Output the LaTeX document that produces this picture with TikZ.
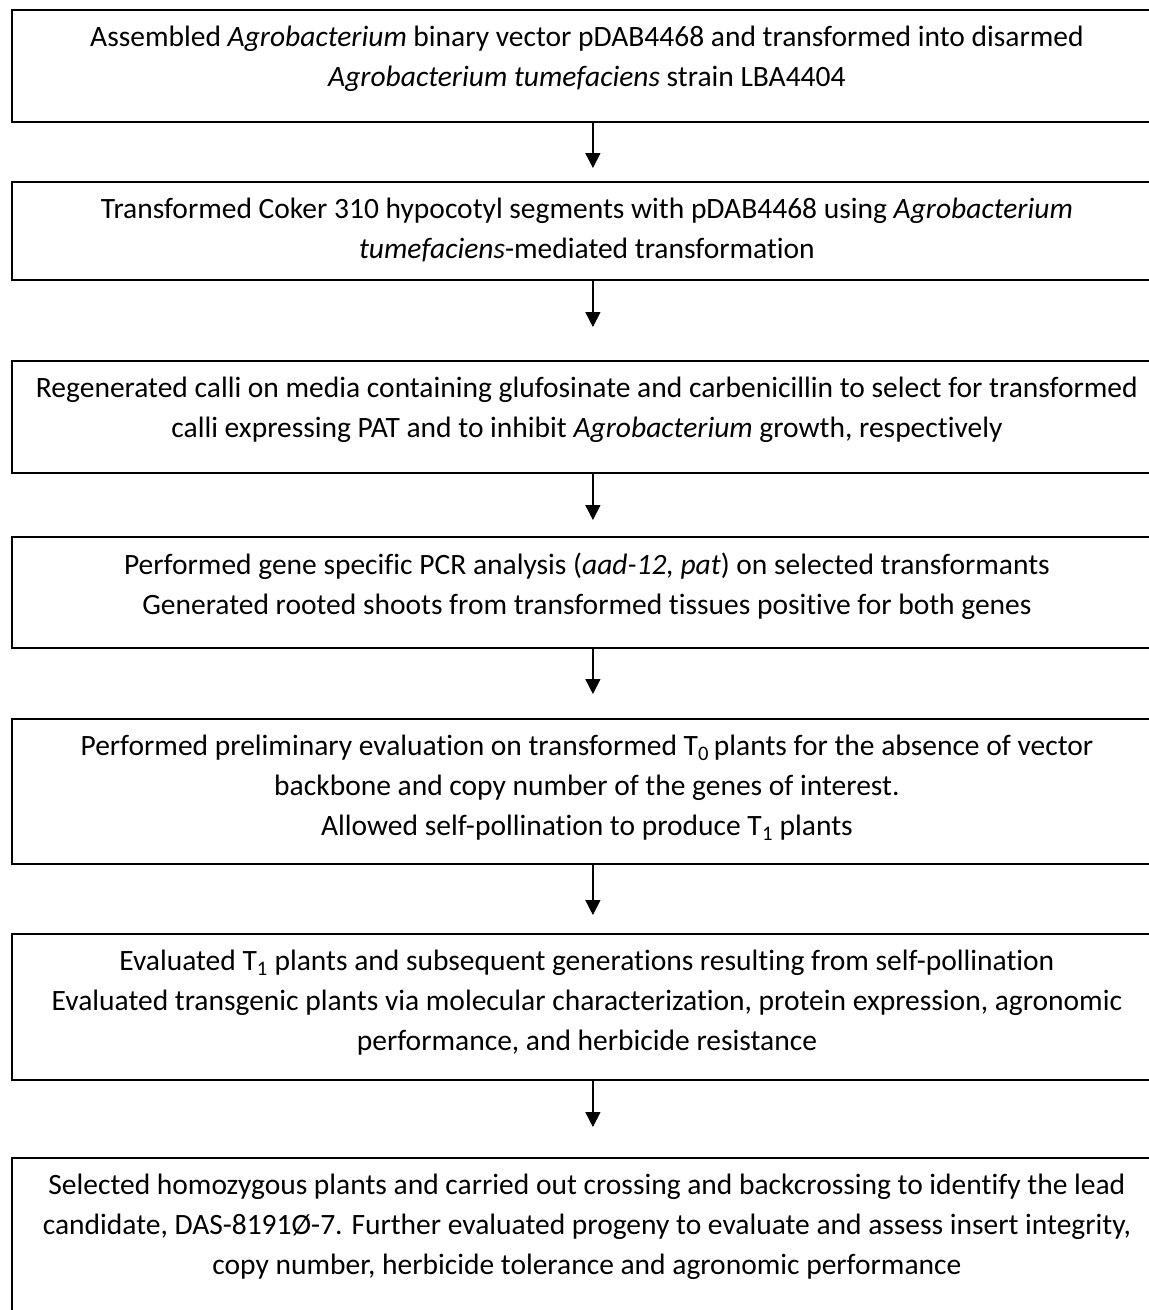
\documentclass[tikz,border=0pt]{standalone}
\usepackage{fontspec}
\setmainfont[Ligatures=NoCommon]{Carlito}
\usetikzlibrary{arrows.meta}
\begin{document}
\begin{tikzpicture}[x=1pt,y=1pt,
  boxnode/.style={draw, line width=1.8pt, minimum width=1162pt, anchor=north west, inner sep=0pt},
  txt/.style={anchor=north, align=center, font=\fontsize{29.5}{40}\selectfont, inner sep=0pt},
  arr/.style={line width=1.5pt, -{Triangle[width=15pt,length=15pt]}}]
\useasboundingbox (0,0) rectangle (1149,-1310);
\node[boxnode, minimum height=112pt] (b1) at (11,-9) {};
\node[boxnode, minimum height=98pt]  (b2) at (11,-181) {};
\node[boxnode, minimum height=112pt] (b3) at (11,-360) {};
\node[boxnode, minimum height=111pt] (b4) at (11,-536) {};
\node[boxnode, minimum height=145pt] (b5) at (11,-718) {};
\node[boxnode, minimum height=146pt] (b6) at (11,-933) {};
\node[boxnode, minimum height=190pt] (b7) at (11,-1157) {};

\node[txt] (t1) at ([xshift=-6pt,yshift=-17pt]b1.north) {Assembled \textit{Agrobacterium} binary vector pDAB4468 and transformed into disarmed\\ \textit{Agrobacterium tumefaciens} strain LBA4404};
\node[txt] (t2) at ([xshift=-6pt,yshift=-17pt]b2.north) {Transformed Coker 310 hypocotyl segments with pDAB4468 using \textit{Agrobacterium}\\ \textit{tumefaciens}-mediated transformation};
\node[txt] (t3) at ([xshift=-6pt,yshift=-17pt]b3.north) {Regenerated calli on media containing glufosinate and carbenicillin to select for transformed\\ calli expressing PAT and to inhibit \textit{Agrobacterium} growth, respectively};
\node[txt] (t4) at ([xshift=-6pt,yshift=-17pt]b4.north) {Performed gene specific PCR analysis (\textit{aad-12, pat}) on selected transformants\\ Generated rooted shoots from transformed tissues positive for both genes};
\node[txt] (t5) at ([xshift=-6pt,yshift=-17pt]b5.north) {Performed preliminary evaluation on transformed T\textsubscript{0}\,plants for the absence of vector\\ backbone and copy number of the genes of interest.\\ Allowed self-pollination to produce T\textsubscript{1} plants};
\node[txt] (t6) at ([xshift=-6pt,yshift=-17pt]b6.north) {Evaluated T\textsubscript{1} plants and subsequent generations resulting from self-pollination\\ Evaluated transgenic plants via molecular characterization, protein expression, agronomic\\ performance, and herbicide resistance};
\node[txt] (t7) at ([xshift=-6pt,yshift=-17pt]b7.north) {Selected homozygous plants and carried out crossing and backcrossing to identify the lead\\ candidate, DAS-8191Ø-7. Further evaluated progeny to evaluate and assess insert integrity,\\ copy number, herbicide tolerance and agronomic performance};

\draw[arr, shorten >=13pt] (b1.south) -- (b2.north);
\draw[arr, shorten >=33pt] (b2.south) -- (b3.north);
\draw[arr, shorten >=16pt] (b3.south) -- (b4.north);
\draw[arr, shorten >=24pt] (b4.south) -- (b5.north);
\draw[arr, shorten >=18pt] (b5.south) -- (b6.north);
\draw[arr, shorten >=30pt] (b6.south) -- (b7.north);
\end{tikzpicture}
\end{document}
